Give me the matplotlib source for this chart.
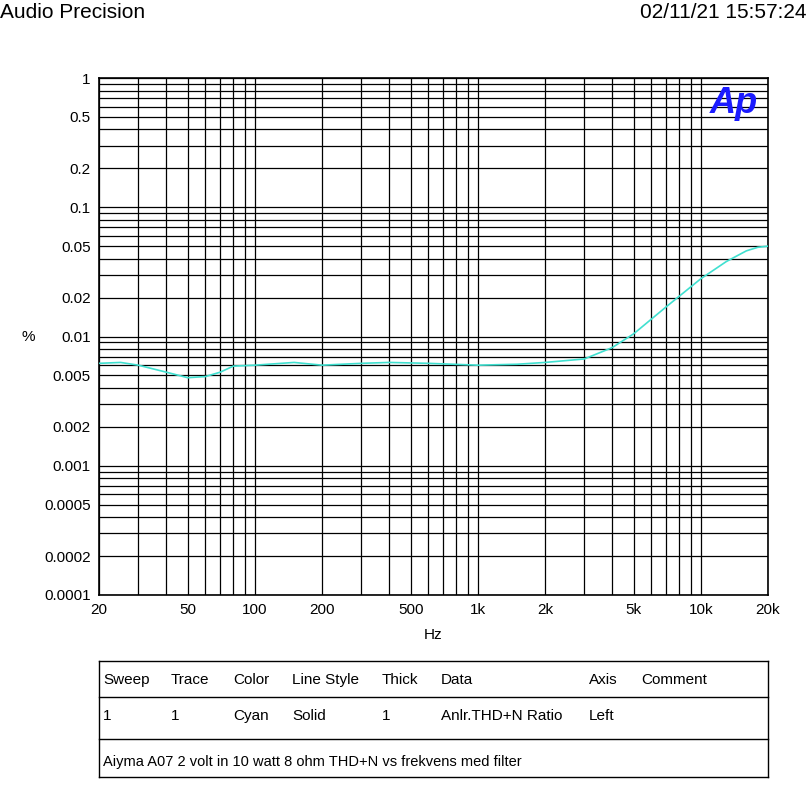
import numpy as np
import matplotlib.pyplot as plt
from matplotlib.ticker import FixedLocator, FixedFormatter, NullFormatter

freq = [20, 25, 30, 40, 50, 60, 70, 80, 100, 150, 200, 300, 400, 600, 1000,
        1500, 2000, 3000, 4000, 5000, 7000, 10000, 13000, 16000, 18000, 20000]
thdn = [0.0062, 0.0063, 0.006, 0.0053, 0.0048, 0.0049, 0.0053, 0.0059, 0.006,
        0.0063, 0.006, 0.0062, 0.0063, 0.0062, 0.006, 0.0061, 0.0063, 0.0067,
        0.0082, 0.0105, 0.017, 0.028, 0.038, 0.046, 0.049, 0.05]

xticks = [20, 50, 100, 200, 500, 1000, 2000, 5000, 10000, 20000]
xlabels = ['20', '50', '100', '200', '500', '1k', '2k', '5k', '10k', '20k']
yticks = [0.0001, 0.0002, 0.0005, 0.001, 0.002, 0.005, 0.01, 0.02, 0.05, 0.1, 0.2, 0.5, 1]
ylabels = ['0.0001', '0.0002', '0.0005', '0.001', '0.002', '0.005', '0.01', '0.02',
           '0.05', '0.1', '0.2', '0.5', '1']

plt.rcParams['font.family'] = 'Liberation Sans'
fig = plt.figure(figsize=(8.06, 7.89), dpi=100)
ax = fig.add_axes([99 / 806, 1 - 595 / 789, 669 / 806, 517 / 789])
ax.set_xscale('log')
ax.set_yscale('log')
ax.set_xlim(20, 20000)
ax.set_ylim(0.0001, 1)

xgrid = [m * 10 ** e for e in range(1, 5) for m in range(1, 10) if 20 <= m * 10 ** e <= 20000]
ygrid = [m * 10.0 ** e for e in range(-4, 1) for m in range(1, 10) if m * 10.0 ** e <= 1]
for x in xgrid:
    ax.axvline(x, color='black', lw=0.9, zorder=1)
for y in ygrid:
    ax.axhline(y, color='black', lw=0.9, zorder=1)

ax.plot(freq, thdn, color='#40e0d0', lw=1.2, zorder=3)

ax.xaxis.set_major_locator(FixedLocator(xticks))
ax.xaxis.set_major_formatter(FixedFormatter(xlabels))
ax.xaxis.set_minor_formatter(NullFormatter())
ax.yaxis.set_major_locator(FixedLocator(yticks))
ax.yaxis.set_major_formatter(FixedFormatter(ylabels))
ax.yaxis.set_minor_formatter(NullFormatter())
ax.tick_params(which='both', length=0, labelsize=11, pad=6)
for s in ax.spines.values():
    s.set_linewidth(1.2)
ax.set_xlabel('Hz', fontsize=11, labelpad=8)
fig.text(22 / 806, 1 - 337 / 789, '%', fontsize=11, va='center')

ax.text(0.985, 0.985, 'Ap', transform=ax.transAxes, ha='right', va='top',
        fontsize=26, fontweight='bold', fontstyle='italic', color='#1a1aff', zorder=5)

fig.text(0.0, 1 - 12 / 789, 'Audio Precision', fontsize=15, va='center')
fig.text(1.0, 1 - 12 / 789, '02/11/21 15:57:24', fontsize=15, va='center', ha='right')

# table
L, R = 99 / 806, 768 / 806
def fy(p):
    return 1 - p / 789
for p in [661, 697, 739, 777]:
    fig.add_artist(plt.Line2D([L, R], [fy(p), fy(p)], color='black', lw=1))
for xx in [L, R]:
    fig.add_artist(plt.Line2D([xx, xx], [fy(661), fy(777)], color='black', lw=1))
cols = [('Sweep', 103), ('Trace', 171), ('Color', 233), ('Line Style', 292),
        ('Thick', 382), ('Data', 441), ('Axis', 589), ('Comment', 641)]
vals = [('1', 103), ('1', 171), ('Cyan', 233), ('Solid', 292), ('1', 382),
        ('Anlr.THD+N Ratio', 441), ('Left', 589)]
for t, px in cols:
    fig.text(px / 806, fy(680), t, fontsize=11, va='center')
for t, px in vals:
    fig.text(px / 806, fy(716), t, fontsize=11, va='center')
fig.text(103 / 806, fy(762), 'Aiyma A07 2 volt in 10 watt 8 ohm THD+N vs frekvens med filter',
         fontsize=10.5, va='center')

fig.savefig('out.png', dpi=100)
